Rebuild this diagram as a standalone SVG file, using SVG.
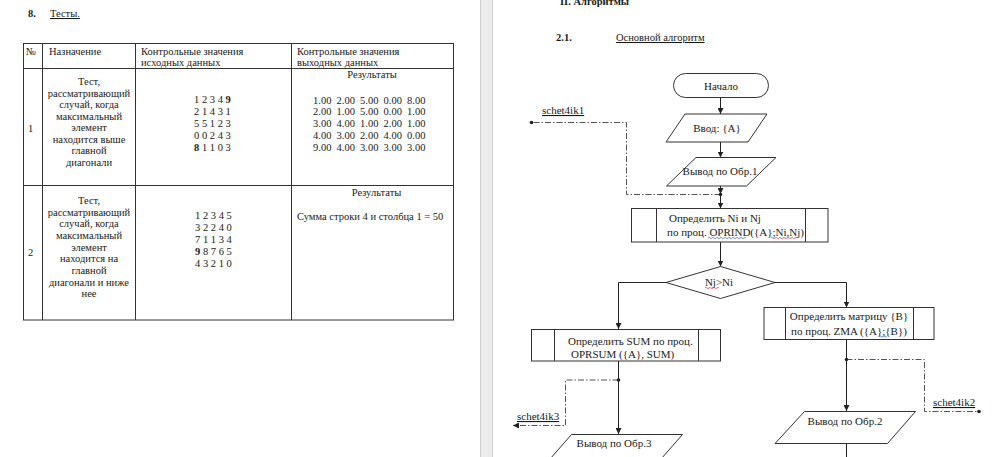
<svg xmlns="http://www.w3.org/2000/svg" width="1000" height="457" viewBox="0 0 1000 457" font-family="'Liberation Serif', 'Times New Roman', serif">
<style>
  text { font-family: "Liberation Serif", "Times New Roman", serif; fill: #1a1a1a; font-size: 10.5px; }
  .c { text-anchor: middle; }
  .b { font-weight: bold; }
  .u { text-decoration: underline; }
  .fc { font-size: 11px; }
  .tbl { stroke: #333; stroke-width: 1; fill: none; }
  .shape { stroke: #333; stroke-width: 1; fill: #fff; }
  .ln { stroke: #222; stroke-width: 1; fill: none; }
  .dd { stroke: #555; stroke-width: 1; fill: none; stroke-dasharray: 6 2 1.5 2; }
  .wr { stroke: #d33; stroke-width: 0.7; fill: none; }
  .wb { stroke: #36c; stroke-width: 0.7; fill: none; }
</style>
<defs>
  <marker id="ah" viewBox="0 0 8 8" refX="8" refY="4" markerWidth="6" markerHeight="6" orient="auto" markerUnits="userSpaceOnUse">
    <path d="M0,0 L8,4 L0,8 z" fill="#222"/>
  </marker>
</defs>
<rect x="0" y="0" width="1000" height="457" fill="#fff"/>
<!-- page divider -->
<rect x="480" y="0" width="13" height="457" fill="#ececec"/>
<line x1="480.5" y1="0" x2="480.5" y2="457" stroke="#cfcfcf"/>
<line x1="492.5" y1="0" x2="492.5" y2="457" stroke="#cfcfcf"/>

<!-- LEFT PAGE -->
<g id="left-title">
  <text x="28" y="17" class="b" font-size="11">8.</text>
  <text x="50" y="17" class="u" font-size="11">Тесты.</text>
</g>
<g id="table">
  <rect x="23.5" y="43.5" width="430" height="276.5" class="tbl"/>
  <line x1="23.5" y1="68.5" x2="453.5" y2="68.5" class="tbl"/>
  <line x1="23.5" y1="185.5" x2="453.5" y2="185.5" class="tbl"/>
  <line x1="42.5" y1="43.5" x2="42.5" y2="320" class="tbl"/>
  <line x1="135.5" y1="43.5" x2="135.5" y2="320" class="tbl"/>
  <line x1="291.5" y1="43.5" x2="291.5" y2="320" class="tbl"/>
  <!-- header -->
  <text x="26" y="55">№</text>
  <text x="49" y="55">Назначение</text>
  <text x="141" y="55">Контрольные значения</text>
  <text x="141" y="66">исходных данных</text>
  <text x="297" y="55">Контрольные значения</text>
  <text x="297" y="66">выходных данных</text>
  <!-- row 1 -->
  <text x="28" y="132">1</text>
  <text x="89" y="85" class="c">Тест,</text>
  <text x="89" y="97" class="c">рассматривающий</text>
  <text x="89" y="108" class="c">случай, когда</text>
  <text x="89" y="120" class="c">максимальный</text>
  <text x="89" y="131" class="c">элемент</text>
  <text x="89" y="143" class="c">находится выше</text>
  <text x="89" y="154" class="c">главной</text>
  <text x="89" y="166" class="c">диагонали</text>
  <text x="194" y="103" font-size="11">1 2 3 4 <tspan class="b">9</tspan></text>
  <text x="194" y="115" font-size="11">2 1 4 3 1</text>
  <text x="194" y="127" font-size="11">5 5 1 2 3</text>
  <text x="194" y="139" font-size="11">0 0 2 4 3</text>
  <text x="194" y="151" font-size="11"><tspan class="b">8</tspan> 1 1 0 3</text>
  <text x="372" y="78" class="c" font-size="11">Результаты</text>
  <g font-size="11">
    <text x="313" y="103.5" font-size="11">1.00</text><text x="336.5" y="103.5" font-size="11">2.00</text><text x="360" y="103.5" font-size="11">5.00</text><text x="383.5" y="103.5" font-size="11">0.00</text><text x="407" y="103.5" font-size="11">8.00</text>
    <text x="313" y="115.3" font-size="11">2.00</text><text x="336.5" y="115.3" font-size="11">1.00</text><text x="360" y="115.3" font-size="11">5.00</text><text x="383.5" y="115.3" font-size="11">0.00</text><text x="407" y="115.3" font-size="11">1.00</text>
    <text x="313" y="127" font-size="11">3.00</text><text x="336.5" y="127" font-size="11">4.00</text><text x="360" y="127" font-size="11">1.00</text><text x="383.5" y="127" font-size="11">2.00</text><text x="407" y="127" font-size="11">1.00</text>
    <text x="313" y="138.8" font-size="11">4.00</text><text x="336.5" y="138.8" font-size="11">3.00</text><text x="360" y="138.8" font-size="11">2.00</text><text x="383.5" y="138.8" font-size="11">4.00</text><text x="407" y="138.8" font-size="11">0.00</text>
    <text x="313" y="150.5" font-size="11">9.00</text><text x="336.5" y="150.5" font-size="11">4.00</text><text x="360" y="150.5" font-size="11">3.00</text><text x="383.5" y="150.5" font-size="11">3.00</text><text x="407" y="150.5" font-size="11">3.00</text>
  </g>
  <!-- row 2 -->
  <text x="28" y="256">2</text>
  <text x="89" y="204" class="c">Тест,</text>
  <text x="89" y="215.7" class="c">рассматривающий</text>
  <text x="89" y="227.3" class="c">случай, когда</text>
  <text x="89" y="239" class="c">максимальный</text>
  <text x="89" y="250.6" class="c">элемент</text>
  <text x="89" y="262.3" class="c">находится на</text>
  <text x="89" y="274" class="c">главной</text>
  <text x="89" y="285.6" class="c">диагонали и ниже</text>
  <text x="89" y="297.2" class="c">нее</text>
  <text x="195" y="219" font-size="11">1 2 3 4 5</text>
  <text x="195" y="231" font-size="11">3 2 2 4 0</text>
  <text x="195" y="243" font-size="11">7 1 1 3 4</text>
  <text x="195" y="255" font-size="11"><tspan class="b">9</tspan> 8 7 6 5</text>
  <text x="195" y="267" font-size="11">4 3 2 1 0</text>
  <text x="376.5" y="196" class="c" font-size="11">Результаты</text>
  <text x="297" y="219.5" font-size="11">Сумма строки 4 и столбца 1 = 50</text>
</g>

<!-- RIGHT PAGE -->
<g id="right-title">
  <text x="560" y="5" class="b" font-size="11">II. Алгоритмы</text>
  <text x="556" y="41" class="b" font-size="11">2.1.</text>
  <text x="616" y="41" class="u" font-size="11">Основной алгоритм</text>
</g>

<g id="connectors">
  <line x1="720.5" y1="97.5" x2="720.5" y2="114" class="ln" marker-end="url(#ah)"/>
  <line x1="720.5" y1="142" x2="720.5" y2="157.5" class="ln" marker-end="url(#ah)"/>
  <line x1="720.5" y1="186" x2="720.5" y2="194" class="ln" marker-end="url(#ah)"/>
  <line x1="720.5" y1="194" x2="720.5" y2="208.5" class="ln" marker-end="url(#ah)"/>
  <line x1="720.5" y1="242" x2="720.5" y2="266.5" class="ln" marker-end="url(#ah)"/>
  <polyline points="666,282.5 618.5,282.5 618.5,329" class="ln" marker-end="url(#ah)"/>
  <polyline points="775,282.5 846.5,282.5 846.5,307.5" class="ln" marker-end="url(#ah)"/>
  <line x1="618.5" y1="361" x2="618.5" y2="434" class="ln" marker-end="url(#ah)"/>
  <line x1="846.5" y1="339.5" x2="846.5" y2="411" class="ln" marker-end="url(#ah)"/>
  <line x1="846.5" y1="443.5" x2="846.5" y2="457" class="ln"/>
  <!-- dash-dot links -->
  <polyline points="720.5,194.5 626.5,194.5 626.5,122.5 531.5,122.5" class="dd"/>
  <circle cx="720.5" cy="194.5" r="1.8" fill="#222"/>
  <circle cx="531.5" cy="122.5" r="1.8" fill="#222"/>
  <polyline points="618.5,380 565.5,380 565.5,425.5 513,425.5" class="dd" marker-end="url(#ah)"/>
  <circle cx="618.5" cy="380" r="1.8" fill="#222"/>
  <polyline points="846.5,359.5 924.5,359.5 924.5,411.5 979,411.5" class="dd"/>
  <circle cx="846.5" cy="359.5" r="1.8" fill="#222"/>
  <circle cx="979" cy="411.5" r="1.8" fill="#222"/>
  <text x="542" y="114" class="u fc">schet4ik1</text>
  <text x="517" y="420" class="u fc">schet4ik3</text>
  <text x="933" y="406" class="u fc">schet4ik2</text>
</g>

<g id="start">
  <rect x="673.5" y="73.5" width="95" height="24" rx="12" ry="12" class="shape"/>
  <text x="721" y="89.5" class="c fc">Начало</text>
</g>
<g id="input">
  <polygon points="685,114 767,114 748,142 666,142" class="shape"/>
  <text x="717" y="131.5" class="c fc">Ввод: {A}</text>
</g>
<g id="output1">
  <polygon points="696,157.5 776,157.5 746.5,186 666.5,186" class="shape"/>
  <text x="720" y="175" class="c fc">Вывод по Обр.1</text>
</g>
<g id="oprind">
  <rect x="631.5" y="208.5" width="196.5" height="33.5" class="shape"/>
  <line x1="656.5" y1="208.5" x2="656.5" y2="242" class="tbl"/>
  <line x1="805.5" y1="208.5" x2="805.5" y2="242" class="tbl"/>
  <text x="669" y="222" class="fc">Определить Ni и Nj</text>
  <text x="667" y="236" class="fc" textLength="137" lengthAdjust="spacingAndGlyphs">по проц. OPRIND({A};Ni,Nj)</text>
  <path d="M708,238 q1,-1.2 2,0 t2,0 t2,0 t2,0 t2,0 t2,0 t2,0 t2,0 t2,0 t2,0 t2,0 t2,0 t2,0 t2,0 t2,0 t2,0 t2,0 t2,0 t2,0" class="wb"/>
  <path d="M771,238 q1,-1.2 2,0 t2,0 t2,0 t2,0 t2,0 t2,0 t2,0 t2,0 t2,0 t2,0 t2,0 t2,0 t2,0" class="wr"/>
</g>
<g id="decision">
  <polygon points="720.5,266.5 775,282.5 720.5,298.5 666,282.5" class="shape"/>
  <text x="719" y="286" class="c fc">Nj&gt;Ni</text>
  <path d="M705,288 q1,-1.2 2,0 t2,0 t2,0 t2,0 t2,0 t2,0 t2,0" class="wr"/>
</g>
<g id="zma">
  <rect x="764" y="307.5" width="170" height="32" class="shape"/>
  <line x1="785.5" y1="307.5" x2="785.5" y2="339.5" class="tbl"/>
  <line x1="913.5" y1="307.5" x2="913.5" y2="339.5" class="tbl"/>
  <text x="849" y="320" class="c fc">Определить матрицу {B}</text>
  <text x="849" y="334.5" class="c fc">по проц. ZMA ({A};{B})</text>
  <path d="M879,336.5 q1,-1.2 2,0 t2,0 t2,0 t2,0" class="wb"/>
</g>
<g id="oprsum">
  <rect x="531.5" y="329.5" width="189" height="31.5" class="shape"/>
  <line x1="554.5" y1="329.5" x2="554.5" y2="361" class="tbl"/>
  <line x1="698.5" y1="329.5" x2="698.5" y2="361" class="tbl"/>
  <text x="568" y="345" class="fc">Определить SUM по проц.</text>
  <text x="571" y="358" class="fc">OPRSUM ({A}, SUM)</text>
</g>
<g id="output3">
  <polygon points="571.5,434.5 682.5,434.5 654,467 543,467" class="shape"/>
  <text x="614" y="447" class="c fc">Вывод по Обр.3</text>
</g>
<g id="output2">
  <polygon points="804.5,411.5 915.5,411.5 887.5,443.5 775,443.5" class="shape"/>
  <text x="845" y="425" class="c fc">Вывод по Обр.2</text>
</g>
</svg>
